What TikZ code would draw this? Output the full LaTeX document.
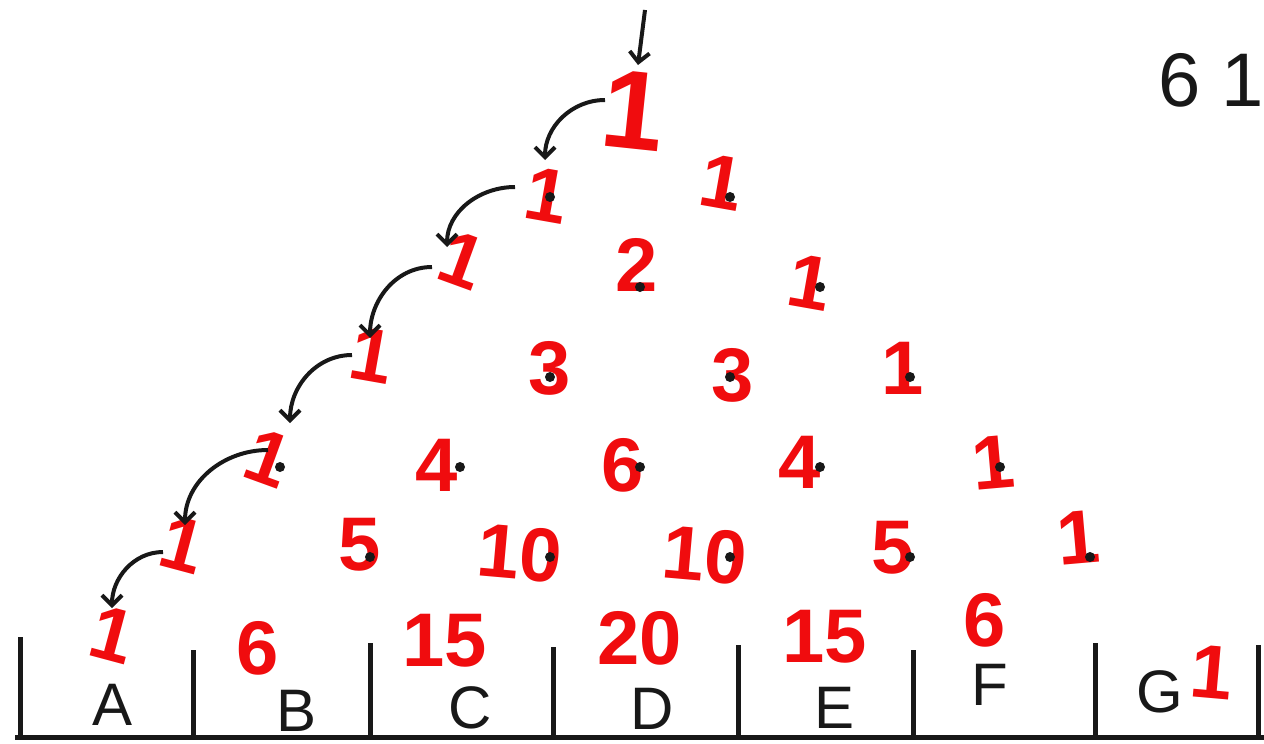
\documentclass[tikz,border=0pt]{standalone}
\usepackage{fontspec}
\setmainfont{Liberation Sans}
\usepackage{xcolor}
\usetikzlibrary{arrows.meta}
\definecolor{pen}{RGB}{240,12,14}
\definecolor{ink}{RGB}{24,24,24}

\tikzset{
  count/.style={text=pen,font=\fontsize{38}{38}\selectfont\bfseries,inner sep=0pt},
  binname/.style={text=ink,font=\fontsize{30}{30}\selectfont,inner sep=0pt},
  peg/.style={fill=ink,circle,inner sep=0pt,minimum size=5pt},
  wall/.style={ink,line width=2.5pt},
  hop/.style={ink,line width=2pt,->},
}

\begin{document}
\begin{tikzpicture}[x=0.5pt,y=-0.5pt,>={Straight Barb[length=5pt,width=10pt]}]
 \useasboundingbox (0,0) rectangle (1264,744);
 % counts, row by row
 \node[count,font=\fontsize{56}{56}\selectfont\bfseries,rotate=-6] (n-0-0) at (633,110) {1};
 \foreach \r/\k/\x/\y/\t/\a in {
   1/0/547/195/1/-10, 1/1/722/182/1/-10,
   2/0/462/260/1/-20, 2/1/637/265/2/0, 2/2/810/282/1/-10,
   3/0/372/355/1/-10, 3/1/550/368/3/0, 3/2/733/375/3/0, 3/3/903/368/1/0,
   4/0/268/458/1/-20, 4/1/437/465/4/0, 4/2/623/465/6/0, 4/3/800/462/4/0, 4/4/993/463/1/5,
   5/0/183/545/1/-15, 5/1/360/545/5/0, 5/2/520/553/10/-5, 5/3/705/555/10/-5, 5/4/893/548/5/0, 5/5/1078/538/1/5,
   6/0/113/635/1/-15, 6/1/258/648/6/0, 6/2/445/641/15/0, 6/3/640/638/20/0, 6/4/825/637/15/0, 6/5/985/620/6/0, 6/6/1212/672/1/-5}
   \node[count,rotate=\a] (n-\r-\k) at (\x,\y) {\t};
 % pegs
 \foreach \r/\k in {1/0,1/1,2/1,2/2,3/1,3/2,3/3,4/0,4/1,4/2,4/3,4/4,5/1,5/2,5/3,5/4,5/5}
   \node[peg] (p-\r-\k) at ({640+(2*\k-\r)*90},{107+\r*90}) {};
 % ball falls in, then steps down the left edge
 \coordinate (chute) at (645,10);
 \draw[hop] (chute) -- ([shift={(5,-45)}]n-0-0.center);
 \foreach \r/\sx/\sy/\ex/\ey in {0/-28/-10/-2/-35, 1/-32/-8/-15/-13, 2/-30/7/-2/-17,
                                 3/-20/0/22/-35, 4/0/-8/2/-20, 5/-20/7/-1/-27} {
   \pgfmathtruncatemacro\s{\r+1}
   \draw[hop] ([shift={(\sx,\sy)}]n-\r-0.center) to[out=180,in=90] ([shift={(\ex,\ey)}]n-\s-0.center);
 }
 % bins
 \draw[wall] (15,737) -- (1264,737);
 \foreach \x/\t in {20/637,193/650,370/643,553/647,738/645,913/650,1095/643,1258/645}
   \draw[wall] (\x,\t) -- (\x,737);
 \foreach \l/\x/\y in {A/113/705,B/297/711,C/470/708,D/652/709,E/835/708,F/990/685,G/1160/692}
   \node[binname] (bin-\l) at (\x,\y) {\l};
 \node[text=ink,font=\fontsize{38}{38}\selectfont,inner sep=0pt,anchor=west] (note) at (1158,80) {6 1};
\end{tikzpicture}
\end{document}
